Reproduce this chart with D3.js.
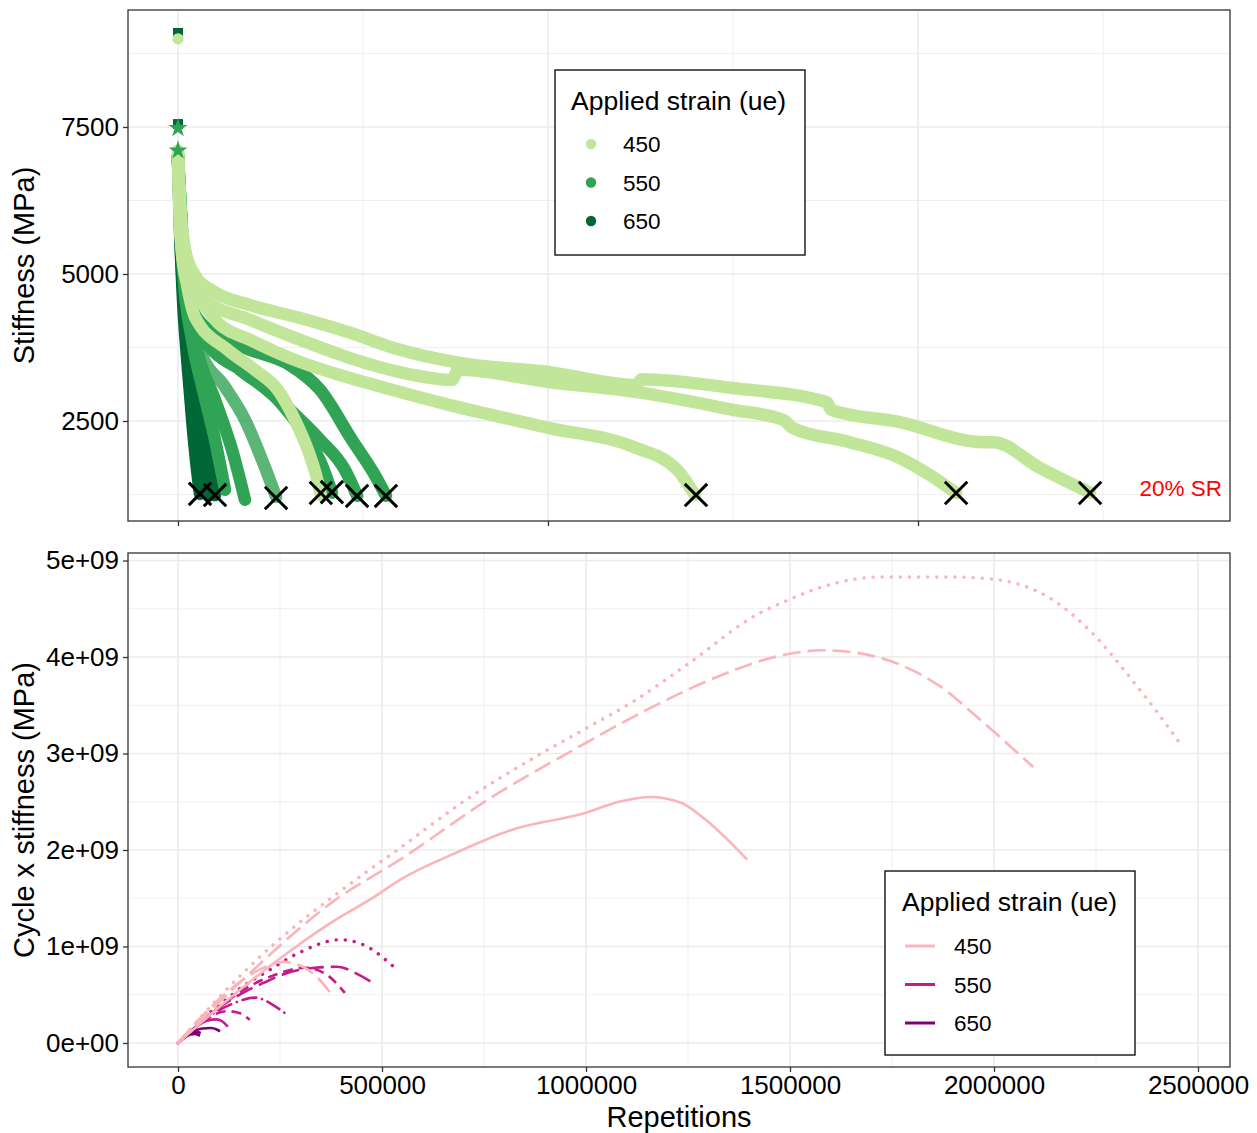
<!DOCTYPE html>
<html><head><meta charset="utf-8">
<script src="https://cdn.jsdelivr.net/npm/d3@7"></script>
<style>body{margin:0;background:#fff;} text{font-family:"Liberation Sans",Arial,sans-serif;}</style>
</head><body><svg id="c" width="1257" height="1133"></svg>
<script>
// ---------------- DATA ----------------
const strainLevels = ["450", "550", "650"];
const greenColors = ["#c2e699", "#31a354", "#006837"];
const pinkColors = ["#fbb4b9", "#c51b8a", "#7a0177"];

// Top panel: stiffness (MPa) vs repetitions, one array per specimen [N, S]
const stiff450a = [[0,6950],[3000,6200],[10000,5400],[25000,4800],[45900,4270],[135000,3707],[208000,3367],[270000,3027],[316000,2517],[351000,2007],[373000,1582],[386000,1242]];
const stiff450b = [[0,7000],[5400,5850],[13500,5250],[32400,4750],[59500,4560],[108000,4170],[195000,3880],[330000,3503],[465000,3231],[600000,2993],[735000,2770],[1005000,2380],[1230000,2060],[1349000,1670],[1397000,1240]];
const stiff450c = [[0,7050],[5400,5980],[10800,5750],[32400,4980],[73000,4560],[195000,4220],[330000,3880],[465000,3570],[600000,3330],[741000,3200],[757000,3370],[1005000,3160],[1241000,2990],[1500000,2690],[1635000,2520],[1662000,2380],[1816000,2140],[1951000,1870],[2032000,1580],[2103000,1275]];
const stiff450d = [[0,7100],[2700,6680],[8100,6000],[18900,5410],[45900,4980],[100000,4690],[195000,4470],[330000,4250],[465000,4000],[600000,3710],[749000,3500],[1005000,3330],[1241000,3110],[1252000,3210],[1500000,3060],[1754000,2820],[1765000,2690],[1951000,2480],[2176000,2140],[2203000,2140],[2330000,1700],[2465000,1280]];
const stiff550e = [[0,6900],[13500,5070],[37800,3880],[67600,3030],[100000,2180],[127000,1330]];
const stiff550f = [[0,6950],[16200,5070],[54000,3660],[100000,2860],[146000,2010],[181000,1160]];
const stiff550g = [[0,6950],[18900,4980],[59500,3710],[127000,3080],[181000,2520],[227000,1840],[265000,1210]];
const stiff550h = [[0,7000],[21600,4810],[73000,3880],[168000,3370],[270000,2860],[343000,2260],[389000,1750],[416000,1280]];
const stiff550i = [[0,7000],[24300,4730],[86500,3790],[195000,3280],[303000,2690],[384000,2180],[451000,1670],[484000,1230]];
const stiff550j = [[0,7050],[27000,4560],[100000,3960],[195000,3710],[303000,3450],[384000,3030],[470000,2180],[532000,1580],[562000,1230]];
const stiff650k = [[0,7000],[5400,5750],[13500,4560],[27000,3370],[40500,2350],[51400,1670],[59500,1260]];
const stiff650l = [[0,6920],[8100,5410],[21600,4220],[40500,3030],[59500,2090],[73000,1500],[84000,1240]];
const stiff650m = [[0,7000],[10800,5240],[32400,3710],[59500,2520],[81000,1750],[100000,1240]];

// first-cycle outlier points [strain, S, shape]
const firstCycle = [["650",9100,"square"],["450",9000,"circle"],["650",7550,"square"],["550",7480,"star"],["550",7100,"star"]];

// failure points at 20% strain reduction [N, S]
const failurePoints = [[59500,1260],[100000,1240],[265000,1190],[386000,1275],[416000,1290],[484000,1225],[562000,1225],[1400000,1240],[2103000,1275],[2465000,1275]];

// Bottom panel: cycle x stiffness vs repetitions [N, N*S]
const prod450a = [[0,0],[100000,0.45e9],[200000,0.76e9],[257000,0.84e9],[306000,0.79e9],[341000,0.68e9],[377000,0.50e9]];
const prod450b = [[0,0],[123000,0.45e9],[245000,0.86e9],[380000,1.26e9],[483000,1.52e9],[544000,1.69e9],[681000,1.97e9],[819000,2.21e9],[995000,2.38e9],[1081000,2.50e9],[1157000,2.55e9],[1233000,2.49e9],[1294000,2.31e9],[1395000,1.90e9]];
const prod450c = [[0,0],[150000,0.62e9],[385000,1.48e9],[544000,1.90e9],[770000,2.55e9],[983000,3.07e9],[1157000,3.47e9],[1319000,3.79e9],[1483000,4.02e9],[1581000,4.07e9],[1669000,4.04e9],[1770000,3.92e9],[1870000,3.69e9],[1958000,3.38e9],[2096000,2.86e9]];
const prod450d = [[0,0],[100000,0.47e9],[250000,1.08e9],[400000,1.58e9],[544000,2.02e9],[706000,2.52e9],[882000,2.98e9],[1000000,3.26e9],[1120000,3.55e9],[1257000,3.95e9],[1419000,4.44e9],[1495000,4.59e9],[1574000,4.72e9],[1650000,4.80e9],[1720000,4.83e9],[1890000,4.83e9],[1990000,4.81e9],[2145000,4.59e9],[2245000,4.23e9],[2333000,3.79e9],[2419000,3.32e9],[2458000,3.09e9]];
const prod550e = [[0,0],[40000,0.15e9],[70000,0.23e9],[95000,0.245e9],[110000,0.22e9],[122000,0.17e9]];
const prod550f = [[0,0],[60000,0.22e9],[120000,0.33e9],[150000,0.31e9],[176000,0.24e9]];
const prod550g = [[0,0],[70000,0.26e9],[130000,0.40e9],[189000,0.47e9],[238000,0.38e9],[262000,0.31e9]];
const prod550h = [[0,0],[80000,0.30e9],[160000,0.55e9],[240000,0.71e9],[311000,0.78e9],[360000,0.72e9],[409000,0.52e9]];
const prod550i = [[0,0],[80000,0.30e9],[159000,0.52e9],[208000,0.62e9],[279000,0.74e9],[336000,0.78e9],[390000,0.79e9],[446000,0.70e9],[478000,0.62e9]];
const prod550j = [[0,0],[60000,0.25e9],[127000,0.48e9],[157000,0.58e9],[218000,0.74e9],[299000,0.94e9],[397000,1.07e9],[463000,1.00e9],[515000,0.84e9],[539000,0.75e9]];
const prod650k = [[0,0],[20000,0.07e9],[42000,0.093e9],[54000,0.075e9]];
const prod650l = [[0,0],[25000,0.08e9],[50000,0.11e9],[61000,0.085e9]];
const prod650m = [[0,0],[30000,0.10e9],[60000,0.15e9],[80000,0.155e9],[95000,0.14e9],[103000,0.12e9]];

// axis ticks
const topYTicks = [2500, 5000, 7500];
const topYMinor = [1250, 3750, 6250, 8750];
const topXTicks = [0, 1000000, 2000000];
const topXMinor = [500000, 1500000, 2500000];
const botXTicks = [0, 500000, 1000000, 1500000, 2000000, 2500000];
const botXMinor = [250000, 750000, 1250000, 1750000, 2250000];
const botYTicks = [0, 1e9, 2e9, 3e9, 4e9, 5e9];
const botYLabels = ["0e+00", "1e+09", "2e+09", "3e+09", "4e+09", "5e+09"];
const botYMinor = [0.5e9, 1.5e9, 2.5e9, 3.5e9, 4.5e9];

// ---------------- DRAW ----------------
const svg = d3.select("#c");
svg.append("rect").attr("width",1257).attr("height",1133).attr("fill","#fff");

const P1 = {l:128, r:1230, t:10, b:521};
const P2 = {l:128, r:1230, t:553, b:1067};

const xTop = d3.scaleLinear().domain([-135135, 2843243]).range([P1.l, P1.r]);
const yTop = d3.scaleLinear().domain([799, 9490]).range([P1.b, P1.t]);
const xBot = d3.scaleLinear().domain([-122549, 2578431]).range([P2.l, P2.r]);
const yBot = d3.scaleLinear().domain([-0.249e9, 5.078e9]).range([P2.b, P2.t]);

const colorG = d3.scaleOrdinal().domain(strainLevels).range(greenColors);
const colorP = d3.scaleOrdinal().domain(strainLevels).range(pinkColors);

function grid(g, P, xs, ys, major) {
  const w = major ? 1.6 : 0.8;
  g.selectAll(null).data(xs).join("line")
    .attr("x1", d => d.x).attr("x2", d => d.x).attr("y1", P.t).attr("y2", P.b)
    .attr("stroke", "#ebebeb").attr("stroke-width", w);
  g.selectAll(null).data(ys).join("line")
    .attr("y1", d => d.y).attr("y2", d => d.y).attr("x1", P.l).attr("x2", P.r)
    .attr("stroke", "#ebebeb").attr("stroke-width", w);
}

// ---- top panel ----
const gTop = svg.append("g");
grid(gTop, P1, topXMinor.map(v=>({x:xTop(v)})), topYMinor.map(v=>({y:yTop(v)})), false);
grid(gTop, P1, topXTicks.map(v=>({x:xTop(v)})), topYTicks.map(v=>({y:yTop(v)})), true);

const topSeries = [
  {s:"650", d:stiff650k}, {s:"650", d:stiff650l}, {s:"650", d:stiff650m},
  {s:"550", d:stiff550e}, {s:"550", d:stiff550f}, {s:"550", d:stiff550g, faint:true},
  {s:"550", d:stiff550h}, {s:"550", d:stiff550i}, {s:"550", d:stiff550j},
  {s:"450", d:stiff450a}, {s:"450", d:stiff450b}, {s:"450", d:stiff450c}, {s:"450", d:stiff450d}
];
const lineTop = d3.line().x(d => xTop(d[0])).y(d => yTop(d[1])).curve(d3.curveMonotoneX);
svg.append("clipPath").attr("id","clip1").append("rect")
  .attr("x",P1.l).attr("y",P1.t).attr("width",P1.r-P1.l).attr("height",P1.b-P1.t);
const gTopData = gTop.append("g").attr("clip-path","url(#clip1)");
gTopData.selectAll("path.stf").data(topSeries).join("path").attr("class","stf")
  .attr("d", d => lineTop(d.d))
  .attr("fill","none").attr("stroke", d => colorG(d.s))
  .attr("stroke-opacity", d => d.faint ? 0.8 : 1)
  .attr("stroke-width", 12.5).attr("stroke-linecap","round").attr("stroke-linejoin","round");

const shapeMap = {square: d3.symbolSquare, circle: d3.symbolCircle, star: d3.symbolStar};
gTopData.selectAll("path.fc").data(firstCycle).join("path").attr("class","fc")
  .attr("transform", d => `translate(${xTop(0)},${yTop(d[1])})`)
  .attr("d", d => d3.symbol(shapeMap[d[2]], d[2]==="star" ? 110 : 100)())
  .attr("fill", d => colorG(d[0]));

gTopData.selectAll("path.fail").data(failurePoints).join("path").attr("class","fail")
  .attr("transform", d => `translate(${xTop(d[0])},${yTop(d[1])})`)
  .attr("d", d3.symbol(d3.symbolX, 330)())
  .attr("fill","none").attr("stroke","#000").attr("stroke-width",3);

gTop.append("text").attr("x", xTop(2710000)).attr("y", yTop(1290)+4)
  .attr("text-anchor","middle").attr("font-size",22.5).attr("fill","#ff0000").text("20% SR");

gTop.append("rect").attr("x",P1.l).attr("y",P1.t).attr("width",P1.r-P1.l).attr("height",P1.b-P1.t)
  .attr("fill","none").attr("stroke","#333").attr("stroke-width",1.3);

// top axes
const axYTop = gTop.append("g").attr("transform",`translate(${P1.l},0)`)
  .call(d3.axisLeft(yTop).tickValues(topYTicks).tickSize(5).tickPadding(4).tickFormat(d3.format("d")));
const axXTop = gTop.append("g").attr("transform",`translate(0,${P1.b})`)
  .call(d3.axisBottom(xTop).tickValues(topXTicks).tickSize(5).tickFormat(""));
[axYTop, axXTop].forEach(a => {
  a.select(".domain").remove();
  a.selectAll(".tick line").attr("stroke","#333").attr("stroke-width",1.3);
  a.selectAll("text").attr("font-size",26).attr("fill","#000").attr("font-family","Liberation Sans, Arial, sans-serif");
});

svg.append("text").attr("transform",`translate(34,${(P1.t+P1.b)/2}) rotate(-90)`)
  .attr("text-anchor","middle").attr("font-size",29).attr("fill","#000").text("Stiffness (MPa)");

// top legend
const lg1 = svg.append("g").attr("transform","translate(555,70)");
lg1.append("rect").attr("width",250).attr("height",185).attr("fill","#fff").attr("stroke","#000").attr("stroke-width",1.3);
lg1.append("text").attr("x",16).attr("y",40).attr("font-size",26.5).attr("fill","#000").text("Applied strain (ue)");
lg1.selectAll("circle").data(strainLevels).join("circle")
  .attr("cx",36).attr("cy",(d,i)=>74+i*38.5).attr("r",5.2).attr("fill",d=>colorG(d));
lg1.selectAll("text.lab").data(strainLevels).join("text").attr("class","lab")
  .attr("x",68).attr("y",(d,i)=>74+i*38.5+8).attr("font-size",22.5).attr("fill","#000").text(d=>d);

// ---- bottom panel ----
const gBot = svg.append("g");
grid(gBot, P2, botXMinor.map(v=>({x:xBot(v)})), botYMinor.map(v=>({y:yBot(v)})), false);
grid(gBot, P2, botXTicks.map(v=>({x:xBot(v)})), botYTicks.map(v=>({y:yBot(v)})), true);

const dashes = {solid:null, dashed:"10,6", longdash:"18,7", dotted:"0.1,9", dotdash:"14,6,0.1,6"};
const botSeries = [
  {s:"650", d:prod650k, lt:"solid"}, {s:"650", d:prod650l, lt:"dashed"}, {s:"650", d:prod650m, lt:"solid"},
  {s:"550", d:prod550e, lt:"solid"}, {s:"550", d:prod550f, lt:"dashed"}, {s:"550", d:prod550g, lt:"dotdash"},
  {s:"550", d:prod550h, lt:"dashed"}, {s:"550", d:prod550i, lt:"longdash"}, {s:"550", d:prod550j, lt:"dotted"},
  {s:"450", d:prod450a, lt:"longdash"}, {s:"450", d:prod450b, lt:"solid"}, {s:"450", d:prod450c, lt:"longdash"}, {s:"450", d:prod450d, lt:"dotted"}
];
const lineBot = d3.line().x(d => xBot(d[0])).y(d => yBot(d[1])).curve(d3.curveMonotoneX);
gBot.selectAll("path.pr").data(botSeries).join("path").attr("class","pr")
  .attr("d", d => lineBot(d.d)).attr("fill","none")
  .attr("stroke", d => colorP(d.s))
  .attr("stroke-width", d => d.lt==="dotted" ? 3.4 : 2.6)
  .attr("stroke-linecap", d => (d.lt==="dotted"||d.lt==="dotdash") ? "round" : "butt")
  .attr("stroke-dasharray", d => dashes[d.lt]);

gBot.append("rect").attr("x",P2.l).attr("y",P2.t).attr("width",P2.r-P2.l).attr("height",P2.b-P2.t)
  .attr("fill","none").attr("stroke","#333").attr("stroke-width",1.3);

const axYBot = gBot.append("g").attr("transform",`translate(${P2.l},0)`)
  .call(d3.axisLeft(yBot).tickValues(botYTicks).tickSize(5).tickPadding(4).tickFormat((d,i)=>botYLabels[i]));
const axXBot = gBot.append("g").attr("transform",`translate(0,${P2.b})`)
  .call(d3.axisBottom(xBot).tickValues(botXTicks).tickSize(5).tickPadding(4).tickFormat(d3.format("d")));
[axYBot, axXBot].forEach(a => {
  a.select(".domain").remove();
  a.selectAll(".tick line").attr("stroke","#333").attr("stroke-width",1.3);
  a.selectAll("text").attr("font-size",26).attr("fill","#000").attr("font-family","Liberation Sans, Arial, sans-serif");
});

svg.append("text").attr("x",(P2.l+P2.r)/2).attr("y",1127)
  .attr("text-anchor","middle").attr("font-size",29).attr("fill","#000").text("Repetitions");
svg.append("text").attr("transform",`translate(34,${(P2.t+P2.b)/2}) rotate(-90)`)
  .attr("text-anchor","middle").attr("font-size",29).attr("fill","#000").text("Cycle x stiffness (MPa)");

// bottom legend
const lg2 = svg.append("g").attr("transform","translate(885,871)");
lg2.append("rect").attr("width",250).attr("height",184).attr("fill","#fff").attr("stroke","#000").attr("stroke-width",1.3);
lg2.append("text").attr("x",17).attr("y",40).attr("font-size",26.5).attr("fill","#000").text("Applied strain (ue)");
lg2.selectAll("line").data(strainLevels).join("line")
  .attr("x1",20).attr("x2",50).attr("y1",(d,i)=>75+i*38.5).attr("y2",(d,i)=>75+i*38.5)
  .attr("stroke",d=>colorP(d)).attr("stroke-width",3);
lg2.selectAll("text.lab").data(strainLevels).join("text").attr("class","lab")
  .attr("x",69).attr("y",(d,i)=>75+i*38.5+8).attr("font-size",22.5).attr("fill","#000").text(d=>d);
</script></body></html>
